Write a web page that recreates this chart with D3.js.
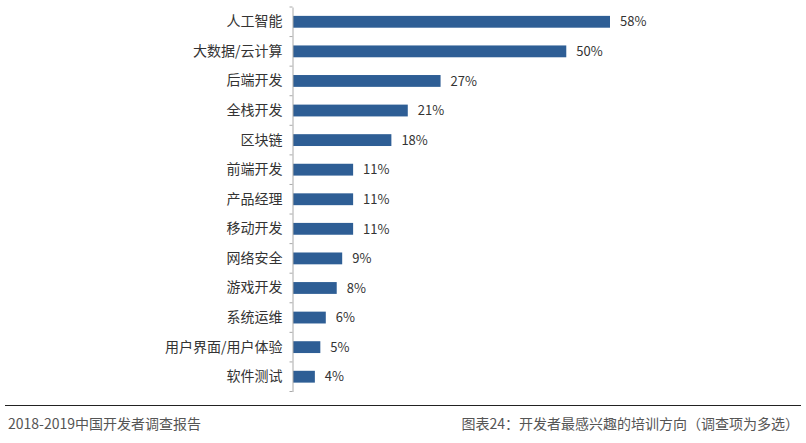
<!DOCTYPE html>
<html><head><meta charset="utf-8">
<script src="https://cdn.jsdelivr.net/npm/d3@7"></script>
<style>body{margin:0;background:#fff}svg{display:block}</style>
</head><body>
<svg id="c" width="806" height="443"></svg>
<script>
const categories = ["人工智能","大数据/云计算","后端开发","全栈开发","区块链","前端开发","产品经理","移动开发","网络安全","游戏开发","系统运维","用户界面/用户体验","软件测试"];
const values = [58,50,27,21,18,11,11,11,9,8,6,5,4];
const valueLabels = ["58%","50%","27%","21%","18%","11%","11%","11%","9%","8%","6%","5%","4%"];
const footerLeft = "2018-2019中国开发者调查报告";
const footerRight = "图表24：开发者最感兴趣的培训方向（调查项为多选）";

const svg = d3.select("#c");
const font = "'Noto Sans CJK SC', 'Microsoft YaHei', sans-serif";

const x0 = 293;
const x = d3.scaleLinear().domain([0,58]).range([x0,610]);
const y = d3.scaleBand().domain(categories).range([7,391.5]).paddingInner(0.6).paddingOuter(0.3);

const g = svg.append("g");
g.selectAll("rect.bar").data(values).join("rect")
  .attr("x", x0).attr("y",(d,i)=>y(categories[i]))
  .attr("width", d=>x(d)-x0).attr("height", y.bandwidth())
  .attr("fill","#2e5e95");

g.selectAll("text.val").data(values).join("text")
  .attr("x", d=>x(d)+10).attr("y",(d,i)=>y(categories[i])+y.bandwidth()/2)
  .attr("dy","0.36em").attr("font-size",13).attr("fill","#333").attr("font-family",font)
  .text((d,i)=>valueLabels[i]);

// axis
const yAxis = d3.axisLeft(y).tickSize(0).tickPadding(10);
const ax = svg.append("g").attr("transform",`translate(${x0-0.5},0)`).call(yAxis);
ax.select(".domain").attr("stroke","#aaa");
ax.selectAll(".tick text").attr("font-size",14).attr("fill","#333").attr("font-family",font);
// tick marks at band boundaries
const bounds = d3.range(0, categories.length+1).map(i => 7 + i*((391.5-7)/categories.length));
ax.selectAll("line.b").data(bounds).join("line").attr("class","b")
  .attr("x1",-3).attr("x2",0).attr("y1",d=>d).attr("y2",d=>d).attr("stroke","#aaa");

// footer
svg.append("line").attr("x1",5).attr("x2",801).attr("y1",405.5).attr("y2",405.5).attr("stroke","#222").attr("stroke-width",1.2);
svg.append("text").attr("x",8).attr("y",429).attr("font-size",14).attr("fill","#555").attr("font-family",font).text(footerLeft);
svg.append("text").attr("x",799).attr("y",429).attr("text-anchor","end").attr("font-size",14).attr("fill","#555").attr("font-family",font).text(footerRight);
</script>
</body></html>
